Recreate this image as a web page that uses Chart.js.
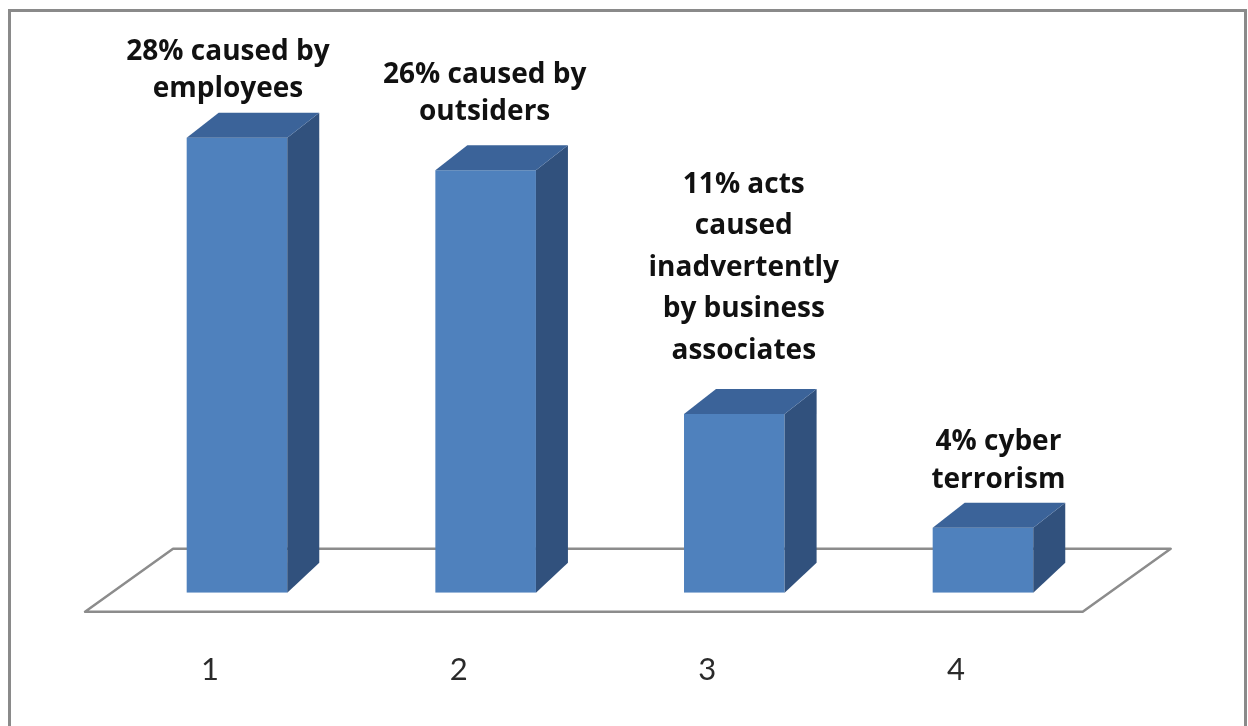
<!DOCTYPE html>
<html>
<head>
<meta charset="utf-8">
<title>Causes</title>
<script src="https://cdn.jsdelivr.net/npm/chart.js@4.4.0/dist/chart.umd.min.js"></script>
<style>
body{margin:0;background:#fff;}
#myChart{display:block;}
</style>
</head>
<body>
<canvas id="myChart" width="1248" height="726"></canvas>
<script>
const categories = ["1","2","3","4"];
const values = [28, 26, 11, 4];
const labelLines = [
  ["28% caused by","employees"],
  ["26% caused by","outsiders"],
  ["11% acts","caused","inadvertently","by business","associates"],
  ["4% cyber","terrorism"]
];

// look of the picture
const frontColor = "#4f81bd";
const topColor = "#3b6399";
const sideColor = "#31517d";
const depth = {dx:32, topDy:-25, baseDy:-30};
const labelNudge = [[-9,-41],[-1,-50],[9.5,-55],[15.5,-40]];
const labelLineHeight = [37,37,41.6,37.6];

const ctx = document.getElementById("myChart");

let box3d = {
  id:"box3d",
  beforeDraw(chart){
    // frame round the picture
    let c=chart.ctx;
    c.save();
    c.strokeStyle="#8a8a8a";
    c.lineWidth=3;
    c.beginPath();
    c.moveTo(9.5,740);
    c.lineTo(9.5,10.5);
    c.lineTo(1245.5,10.5);
    c.lineTo(1245.5,740);
    c.stroke();
    c.restore();
  },
  beforeDatasetsDraw(chart){
    // the floor under the bars
    let c=chart.ctx, a=chart.chartArea;
    let y0=chart.scales.y.getPixelForValue(0);
    let fy=y0+19, bx=88, by=-63;
    let l=a.left-27.6, r=a.right-24.6;
    c.save();
    c.strokeStyle="#8c8c8c";
    c.lineWidth=2.5;
    c.lineJoin="round";
    c.beginPath();
    c.moveTo(l,fy);
    c.lineTo(r,fy);
    c.lineTo(r+bx,fy+by);
    c.lineTo(l+bx,fy+by);
    c.closePath();
    c.stroke();
    c.restore();
  },
  afterDatasetsDraw(chart){
    let c=chart.ctx;
    let bars=chart.getDatasetMeta(0).data;
    c.save();
    bars.forEach((bar,i)=>{
      let left=bar.x-bar.width/2, right=bar.x+bar.width/2;
      let top=bar.y, base=bar.base;
      // side
      c.fillStyle=sideColor;
      c.beginPath();
      c.moveTo(right,top);
      c.lineTo(right+depth.dx,top+depth.topDy);
      c.lineTo(right+depth.dx,base+depth.baseDy);
      c.lineTo(right,base);
      c.closePath();
      c.fill();
      // top
      c.fillStyle=topColor;
      c.beginPath();
      c.moveTo(left,top);
      c.lineTo(left+depth.dx,top+depth.topDy);
      c.lineTo(right+depth.dx,top+depth.topDy);
      c.lineTo(right,top);
      c.closePath();
      c.fill();

      // text over the bar
      let lines=labelLines[i];
      let cx=bar.x+labelNudge[i][0];
      let lastBase=top+labelNudge[i][1];
      c.fillStyle="#111";
      c.font="bold 28px 'Open Sans'";
      c.textAlign="center";
      c.textBaseline="alphabetic";
      for(let k=0;k<lines.length;k++){
        let y=lastBase-(lines.length-1-k)*labelLineHeight[i];
        c.fillText(lines[k],cx,y);
      }
    });
    c.restore();
  }
};

var myChart = new Chart(ctx, {
  type:"bar",
  data:{
    labels:categories,
    datasets:[{
      data:values,
      backgroundColor:frontColor,
      borderWidth:0,
      categoryPercentage:1,
      barPercentage:0.4045
    }]
  },
  options:{
    responsive:false,
    animation:false,
    devicePixelRatio:1,
    layout:{padding:{left:112.65,right:140.7,top:105.2,bottom:0}},
    plugins:{legend:{display:false},tooltip:{enabled:false}},
    scales:{
      x:{
        grid:{display:false,drawTicks:false},
        border:{display:false},
        ticks:{padding:59,labelOffset:-27,color:"#2a2a2a",font:{family:"Lato",size:31}},
        afterFit:(axis)=>{axis.height=133.3;}
      },
      y:{display:false,min:0,max:30}
    }
  },
  plugins:[box3d]
});
</script>
</body>
</html>
